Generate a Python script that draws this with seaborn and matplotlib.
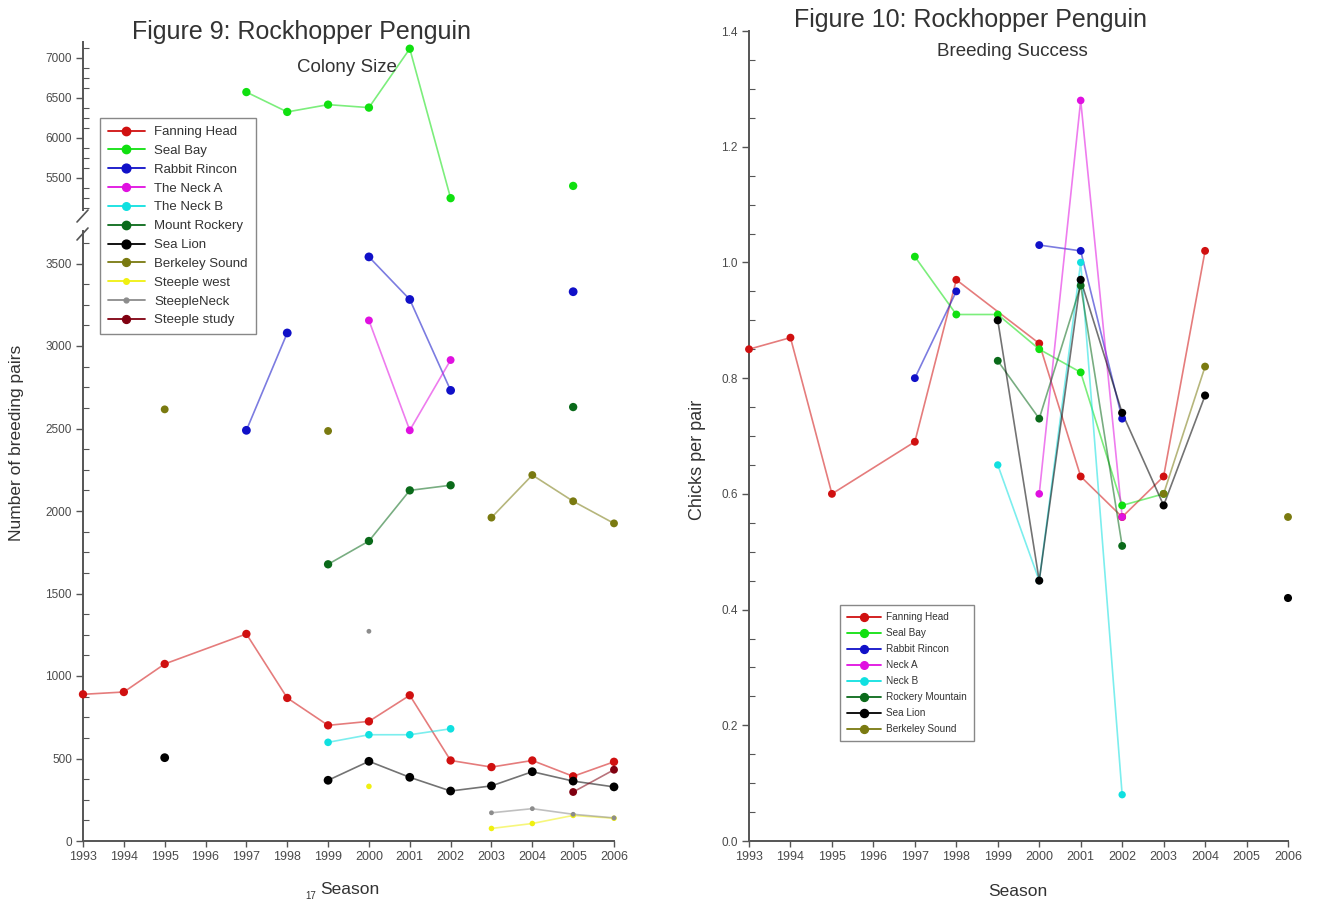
import matplotlib
matplotlib.use("Agg")
import pandas as pd
import matplotlib.pyplot as plt
import seaborn as sns
from matplotlib.lines import Line2D
from matplotlib.ticker import MultipleLocator, FormatStrFormatter

sns.set_theme(style="white")
plt.rcParams["font.family"] = ["Liberation Sans", "DejaVu Sans"]

SEASONS = list(range(1993, 2007))

# ---- Figure 9: colony size (number of breeding pairs) ----
# A None in a years/values pair starts a new, unconnected run of the series.
CS_FANNING_YRS = [1993, 1994, 1995, 1997, 1998, 1999, 2000, 2001, 2002, 2003, 2004, 2005, 2006]
CS_FANNING = [889, 903, 1073, 1255, 867, 701, 725, 883, 488, 448, 488, 392, 480]
CS_SEALBAY_YRS = [1997, 1998, 1999, 2000, 2001, 2002, None, 2005]
CS_SEALBAY = [6574, 6326, 6417, 6380, 7116, 5248, None, 5401]
CS_RABBIT_YRS = [1997, 1998, None, 2000, 2001, 2002, None, 2005]
CS_RABBIT = [2489, 3079, None, 3540, 3282, 2731, None, 3329]
CS_NECKA_YRS = [2000, 2001, 2002]
CS_NECKA = [3155, 2489, 2915]
CS_NECKB_YRS = [1999, 2000, 2001, 2002]
CS_NECKB = [598, 644, 644, 680]
CS_ROCKERY_YRS = [1999, 2000, 2001, 2002, None, 2005]
CS_ROCKERY = [1677, 1818, 2125, 2156, None, 2630]
CS_SEALION_YRS = [1995, None, 1999, 2000, 2001, 2002, 2003, 2004, 2005, 2006]
CS_SEALION = [505, None, 368, 483, 386, 303, 334, 420, 363, 328]
CS_BERKELEY_YRS = [1995, None, 1999, None, 2003, 2004, 2005, 2006]
CS_BERKELEY = [2616, None, 2485, None, 1960, 2218, 2059, 1925]
CS_STEEPLEW_YRS = [2000, None, 2003, 2004, 2005, 2006]
CS_STEEPLEW = [331, None, 76, 106, 155, 138]
CS_STEEPLENECK_YRS = [2000, None, 2003, 2004, 2005, 2006]
CS_STEEPLENECK = [1271, None, 171, 196, 162, 140]
CS_STUDY_YRS = [2005, 2006]
CS_STUDY = [297, 432]

CS_SITES = ["Fanning Head", "Seal Bay", "Rabbit Rincon", "The Neck A", "The Neck B",
            "Mount Rockery", "Sea Lion", "Berkeley Sound", "Steeple west",
            "SteepleNeck", "Steeple study"]
CS_COLORS = ["#d01010", "#10e010", "#1010c8", "#e010e0", "#10e0e0",
             "#0a6a1a", "#000000", "#7a7a10", "#f0f010", "#8c8c8c", "#800010"]
CS_SIZES = [36, 36, 40, 32, 30, 36, 40, 32, 16, 12, 32]

# ---- Figure 10: breeding success (chicks per pair) ----
BS_FANNING_YRS = [1993, 1994, 1995, 1997, 1998, 2000, 2001, 2002, 2003, 2004]
BS_FANNING = [0.85, 0.87, 0.60, 0.69, 0.97, 0.86, 0.63, 0.56, 0.63, 1.02]
BS_SEALBAY_YRS = [1997, 1998, 1999, 2000, 2001, 2002, 2003]
BS_SEALBAY = [1.01, 0.91, 0.91, 0.85, 0.81, 0.58, 0.60]
BS_RABBIT_YRS = [1997, 1998, None, 2000, 2001, 2002]
BS_RABBIT = [0.80, 0.95, None, 1.03, 1.02, 0.73]
BS_NECKA_YRS = [2000, 2001, 2002]
BS_NECKA = [0.60, 1.28, 0.56]
BS_NECKB_YRS = [1999, 2000, 2001, 2002]
BS_NECKB = [0.65, 0.45, 1.00, 0.08]
BS_ROCKERY_YRS = [1999, 2000, 2001, 2002]
BS_ROCKERY = [0.83, 0.73, 0.96, 0.51]
BS_SEALION_YRS = [1999, 2000, 2001, 2002, 2003, 2004, None, 2006]
BS_SEALION = [0.90, 0.45, 0.97, 0.74, 0.58, 0.77, None, 0.42]
BS_BERKELEY_YRS = [2003, 2004, None, 2006]
BS_BERKELEY = [0.60, 0.82, None, 0.56]

BS_SITES = ["Fanning Head", "Seal Bay", "Rabbit Rincon", "Neck A", "Neck B",
            "Rockery Mountain", "Sea Lion", "Berkeley Sound"]
BS_COLORS = ["#d01010", "#10e010", "#1010c8", "#e010e0", "#10e0e0",
             "#0a6a1a", "#000000", "#7a7a10"]
BS_SIZES = [32, 32, 32, 30, 28, 32, 34, 32]


def long_frame(names, pairs):
    rows = []
    for name, (yrs, vals) in zip(names, pairs):
        run = 0
        for yr, v in zip(yrs, vals):
            if yr is None:
                run += 1
                continue
            rows.append({"site": name, "season": yr, "value": v, "run": f"{name}#{run}"})
    return pd.DataFrame(rows)


cs_df = long_frame(CS_SITES, [
    (CS_FANNING_YRS, CS_FANNING), (CS_SEALBAY_YRS, CS_SEALBAY),
    (CS_RABBIT_YRS, CS_RABBIT), (CS_NECKA_YRS, CS_NECKA),
    (CS_NECKB_YRS, CS_NECKB), (CS_ROCKERY_YRS, CS_ROCKERY),
    (CS_SEALION_YRS, CS_SEALION), (CS_BERKELEY_YRS, CS_BERKELEY),
    (CS_STEEPLEW_YRS, CS_STEEPLEW), (CS_STEEPLENECK_YRS, CS_STEEPLENECK),
    (CS_STUDY_YRS, CS_STUDY)])
bs_df = long_frame(BS_SITES, [
    (BS_FANNING_YRS, BS_FANNING), (BS_SEALBAY_YRS, BS_SEALBAY),
    (BS_RABBIT_YRS, BS_RABBIT), (BS_NECKA_YRS, BS_NECKA),
    (BS_NECKB_YRS, BS_NECKB), (BS_ROCKERY_YRS, BS_ROCKERY),
    (BS_SEALION_YRS, BS_SEALION), (BS_BERKELEY_YRS, BS_BERKELEY)])

AXIS_COL = "#555555"
TICK_COL = "#4a4a4a"
TEXT_COL = "#333333"

LOW_LIM = (0, 3700)
HIGH_LIM = (5100, 7200)


def draw_series(ax, df, sites, colors, sizes):
    pal = dict(zip(sites, colors))
    sz = dict(zip(sites, sizes))
    sns.lineplot(data=df, x="season", y="value", hue="site", hue_order=sites,
                 units="run", estimator=None, palette=pal, linewidth=1.2,
                 alpha=0.55, legend=False, ax=ax)
    sns.scatterplot(data=df, x="season", y="value", hue="site", hue_order=sites,
                    size="site", size_order=sites, sizes=sz, palette=pal,
                    edgecolor="none", linewidth=0, legend=False, ax=ax, zorder=3)
    # let markers sitting on the axis limits show in full
    for c in ax.collections:
        c.set_clip_on(False)


def style_axis(ax, show_x=True):
    ax.set_xlim(1993, 2006)
    ax.set_xticks(SEASONS)
    ax.set_xlabel("")
    ax.set_ylabel("")
    for side in ("top", "right"):
        ax.spines[side].set_visible(False)
    for side in ("left", "bottom"):
        ax.spines[side].set_color(AXIS_COL)
        ax.spines[side].set_linewidth(1.4)
    ax.tick_params(axis="y", which="major", direction="out", length=5, width=1,
                   color=AXIS_COL, labelsize=8.5, labelcolor=TICK_COL, pad=3, left=True)
    ax.tick_params(axis="y", which="minor", direction="in", length=4, width=0.8,
                   color=AXIS_COL, left=True)
    if show_x:
        ax.tick_params(axis="x", which="major", direction="out", length=4, width=1,
                       color=AXIS_COL, labelsize=9, labelcolor=TICK_COL, pad=3, bottom=True)
    else:
        ax.spines["bottom"].set_visible(False)
        ax.tick_params(axis="x", which="both", bottom=False, labelbottom=False)
    ax.set_facecolor("white")
    ax.grid(False)


W, H = 1319, 902
fig = plt.figure(figsize=(W / 100, H / 100), dpi=100)
fig.patch.set_facecolor("white")


def fx(px):
    return px / W


def fy(py):
    return 1 - py / H


# Left panel: broken y axis (lower 0-3700, upper 5100-7200)
x0, x1 = 83, 614
ax_lo = fig.add_axes([fx(x0), fy(841), fx(x1 - x0), (841 - 230.5) / H])
ax_hi = fig.add_axes([fx(x0), fy(210), fx(x1 - x0), (210 - 42) / H])
for ax, lim in ((ax_lo, LOW_LIM), (ax_hi, HIGH_LIM)):
    part = cs_df[(cs_df["value"] >= lim[0]) & (cs_df["value"] <= lim[1])]
    draw_series(ax, part, CS_SITES, CS_COLORS, CS_SIZES)
    ax.set_ylim(*lim)
    ax.yaxis.set_major_locator(MultipleLocator(500))
    ax.yaxis.set_minor_locator(MultipleLocator(125))
style_axis(ax_lo, True)
style_axis(ax_hi, False)

# axis-break slashes
for yb in (216, 234):
    fig.add_artist(Line2D([fx(x0 - 6), fx(x0 + 5)], [fy(yb + 6), fy(yb - 6)],
                          color=AXIS_COL, lw=1.2))

# Right panel
ax_r = fig.add_axes([fx(749), fy(841), fx(1288 - 749), (841 - 31) / H])
draw_series(ax_r, bs_df, BS_SITES, BS_COLORS, BS_SIZES)
ax_r.set_ylim(0, 1.4)
ax_r.yaxis.set_major_locator(MultipleLocator(0.2))
ax_r.yaxis.set_minor_locator(MultipleLocator(0.05))
ax_r.yaxis.set_major_formatter(FormatStrFormatter("%.1f"))
style_axis(ax_r, True)


def legend_handles(sites, colors, sizes):
    return [Line2D([], [], color=col, lw=1.3, marker="o", markersize=s ** 0.5,
                   markerfacecolor=col, markeredgecolor=col, label=name)
            for name, col, s in zip(sites, colors, sizes)]


leg_l = fig.legend(handles=legend_handles(CS_SITES, CS_COLORS, CS_SIZES),
                   loc="upper left", bbox_to_anchor=(fx(100), fy(118)),
                   borderaxespad=0, fontsize=9.5, labelspacing=0.5, handlelength=2.8,
                   handletextpad=0.7, borderpad=0.6, frameon=True,
                   fancybox=False, edgecolor="#888888", framealpha=1)
for t in leg_l.get_texts():
    t.set_color(TEXT_COL)

leg_r = fig.legend(handles=legend_handles(BS_SITES, BS_COLORS, BS_SIZES),
                   loc="upper left", bbox_to_anchor=(fx(840), fy(605)),
                   borderaxespad=0, fontsize=7.2, labelspacing=0.6, handlelength=3.4,
                   handletextpad=0.5, borderpad=0.7, frameon=True,
                   fancybox=False, edgecolor="#888888", framealpha=1)
for t in leg_r.get_texts():
    t.set_color(TEXT_COL)

# Titles and axis labels
fig.text(fx(302), fy(32), "Figure 9: Rockhopper Penguin", ha="center", va="center",
         fontsize=18, color=TEXT_COL)
fig.text(fx(347), fy(67), "Colony Size", ha="center", va="center",
         fontsize=13.5, color=TEXT_COL)
fig.text(fx(970), fy(20), "Figure 10: Rockhopper Penguin", ha="center", va="center",
         fontsize=18, color=TEXT_COL)
fig.text(fx(1012), fy(52), "Breeding Success", ha="center", va="center",
         fontsize=13.5, color=TEXT_COL)
fig.text(fx(17), fy(443), "Number of breeding pairs", ha="center", va="center",
         rotation=90, fontsize=12.5, color=TEXT_COL)
fig.text(fx(697), fy(460), "Chicks per pair", ha="center", va="center",
         rotation=90, fontsize=13, color=TEXT_COL)
fig.text(fx(350), fy(889), "Season", ha="center", va="center",
         fontsize=12.5, color=TEXT_COL)
fig.text(fx(311), fy(896), "17", ha="center", va="center",
         fontsize=7, color=TEXT_COL)
fig.text(fx(1018), fy(891), "Season", ha="center", va="center",
         fontsize=12.5, color=TEXT_COL)

fig.savefig("out.png", dpi=100, facecolor="white")
